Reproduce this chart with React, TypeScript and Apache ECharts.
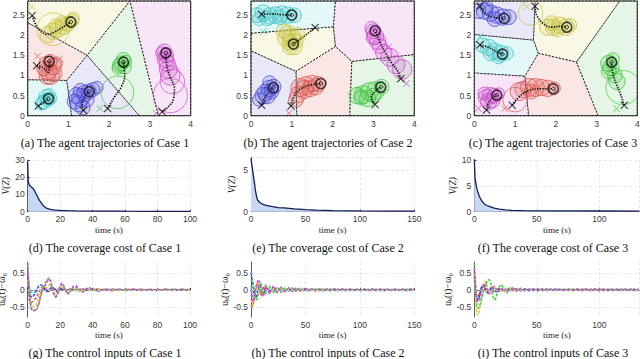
import React, { useEffect, useRef } from "react";
import * as echarts from "echarts";

// agent order: yellow, red, cyan, blue, green, magenta
const AGENT_COLORS = ["#c6c23a", "#dc5650", "#3cc6c6", "#4848dc", "#3ec63e", "#cc4ccc"];
const REGION_FILLS = ["#f8f8e4", "#f9e6e5", "#e4f8f8", "#e8e8f8", "#e6f6e6", "#f8e5f8"];
const TOP_YMAX = 2.85;

// ---------- Case 1 (a) ----------
const A_REGIONS = [
  [[0, 2.31], [1.46, 1.5], [2.51, 2.85], [0, 2.85]],
  [[0, 0.89], [0.96, 0.875], [1.46, 1.5], [0, 2.31]],
  [[0, 0], [1.08, 0], [0.96, 0.875], [0, 0.89]],
  [[1.08, 0], [2.74, 0], [1.46, 1.5], [0.96, 0.875]],
  [[2.74, 0], [3.21, 0], [2.51, 2.85], [1.46, 1.5]],
  [[3.21, 0], [4, 0], [4, 2.85], [2.51, 2.85]],
];
const A_PATHS = [
  [[0.11, 2.49], [0.18, 2.3], [0.3, 2.12], [0.48, 2.02], [0.66, 2.08], [0.86, 2.2], [1.06, 2.33]],
  [[0.22, 1.24], [0.38, 1.2], [0.5, 1.08], [0.53, 1.2], [0.53, 1.35]],
  [[0.26, 0.24], [0.38, 0.32], [0.51, 0.42]],
  [[1.37, 0.13], [1.33, 0.3], [1.42, 0.48], [1.51, 0.6]],
  [[1.96, 0.18], [2.12, 0.45], [2.3, 0.72], [2.38, 1.0], [2.35, 1.33]],
  [[3.3, 0.1], [3.45, 0.22], [3.58, 0.42], [3.6, 0.68], [3.5, 0.95], [3.42, 1.2], [3.39, 1.56]],
];
const A_RINGS = [
  [[0.5, 2.02, 0.2], [0.62, 2.1, 0.2], [0.75, 2.15, 0.2], [0.88, 2.22, 0.2], [0.98, 2.28, 0.18], [1.08, 2.35, 0.17], [1.12, 2.42, 0.15], [0.7, 2.22, 0.18], [0.85, 2.3, 0.18], [0.62, 2.15, 0.4]],
  [[0.45, 1.3, 0.17], [0.55, 1.35, 0.17], [0.62, 1.22, 0.2], [0.5, 1.12, 0.22], [0.56, 1.0, 0.22], [0.64, 1.05, 0.2], [0.4, 1.18, 0.18], [0.7, 1.3, 0.15], [0.48, 0.98, 0.2]],
  [[0.4, 0.35, 0.17], [0.5, 0.4, 0.17], [0.45, 0.47, 0.18], [0.56, 0.43, 0.15], [0.35, 0.3, 0.16], [0.52, 0.52, 0.15]],
  [[1.2, 0.5, 0.2], [1.3, 0.45, 0.22], [1.4, 0.55, 0.2], [1.5, 0.6, 0.18], [1.6, 0.65, 0.17], [1.25, 0.3, 0.2], [1.35, 0.2, 0.18], [1.15, 0.35, 0.18], [1.45, 0.4, 0.18], [1.7, 0.7, 0.15], [1.3, 0.62, 0.18]],
  [[2.3, 1.3, 0.18], [2.35, 1.4, 0.17], [2.25, 1.25, 0.17], [2.4, 1.35, 0.15], [2.22, 1.18, 0.15], [2.38, 1.2, 0.16], [2.2, 0.58, 0.4]],
  [[3.35, 1.6, 0.18], [3.4, 1.5, 0.18], [3.38, 1.4, 0.2], [3.42, 1.3, 0.2], [3.45, 1.15, 0.22], [3.5, 1.0, 0.24], [3.3, 1.55, 0.16], [3.55, 0.85, 0.3], [3.5, 0.5, 0.42]],
];
const A_STARTS = [[0.11, 2.49], [0.22, 1.24], [0.26, 0.24], [1.37, 0.13], [1.96, 0.18], [3.3, 0.1]];
const A_ENDS = [[1.06, 2.33], [0.53, 1.35], [0.51, 0.42], [1.51, 0.6], [2.35, 1.33], [3.39, 1.56]];
const A_MARKS = [[[0.1, 2.71]], [[0.24, 1.48], [0.78, 1.41]], [[0.45, 0.45]], [[1.28, 0.6]], [[1.77, 0.18]], [[3.15, 0.06], [3.38, 1.5]]];

// ---------- Case 2 (b) ----------
const B_REGIONS = [
  [[0, 1.61], [1.1, 1.1], [2.07, 1.72], [2.02, 2.21], [0, 2.05]],
  [[1.12, 0], [2.42, 0], [2.47, 1.35], [2.07, 1.72], [1.1, 1.1]],
  [[0, 2.05], [2.02, 2.21], [2.07, 2.85], [0, 2.85]],
  [[0, 0], [1.12, 0], [1.1, 1.1], [0, 1.61]],
  [[2.42, 0], [4, 0], [4, 1.52], [2.47, 1.35]],
  [[2.02, 2.21], [2.07, 1.72], [2.47, 1.35], [4, 1.52], [4, 2.85], [2.07, 2.85]],
];
const B_PATHS = [
  [[1.57, 2.19], [1.4, 2.05], [1.2, 1.9], [1.04, 1.78]],
  [[0.98, 0.24], [1.04, 0.45], [1.18, 0.64], [1.4, 0.75], [1.71, 0.8]],
  [[0.26, 2.52], [0.5, 2.53], [0.75, 2.51], [1.0, 2.5]],
  [[0.26, 0.26], [0.34, 0.45], [0.45, 0.6], [0.55, 0.7]],
  [[3.04, 0.28], [2.95, 0.45], [3.04, 0.6], [3.18, 0.71]],
  [[3.67, 0.92], [3.6, 1.1], [3.45, 1.3], [3.3, 1.55], [3.15, 1.85], [3.04, 2.11]],
];
const B_RINGS = [
  [[0.85, 1.95, 0.2], [0.95, 1.85, 0.2], [1.05, 1.75, 0.2], [0.9, 2.05, 0.2], [1.0, 1.95, 0.22], [1.1, 1.85, 0.18], [0.8, 2.1, 0.18], [1.15, 2.05, 0.16], [0.95, 1.72, 0.18]],
  [[1.2, 0.7, 0.22], [1.35, 0.75, 0.22], [1.5, 0.8, 0.2], [1.65, 0.82, 0.18], [1.15, 0.55, 0.2], [1.3, 0.65, 0.22], [1.45, 0.7, 0.2], [1.1, 0.4, 0.18], [1.58, 0.72, 0.2]],
  [[0.15, 2.5, 0.18], [0.3, 2.55, 0.2], [0.45, 2.5, 0.2], [0.6, 2.5, 0.2], [0.75, 2.55, 0.2], [0.9, 2.5, 0.2], [1.05, 2.52, 0.18], [0.2, 2.4, 0.16], [0.4, 2.42, 0.18], [0.7, 2.45, 0.18]],
  [[0.35, 0.6, 0.2], [0.45, 0.7, 0.2], [0.55, 0.75, 0.18], [0.3, 0.5, 0.2], [0.4, 0.5, 0.2], [0.5, 0.6, 0.18], [0.2, 0.4, 0.16], [0.45, 0.85, 0.16]],
  [[2.6, 0.5, 0.2], [2.75, 0.55, 0.22], [2.9, 0.6, 0.22], [3.05, 0.65, 0.22], [3.2, 0.72, 0.18], [2.7, 0.45, 0.18], [2.85, 0.45, 0.2], [3.0, 0.5, 0.18]],
  [[3.0, 2.1, 0.18], [3.05, 2.0, 0.2], [3.1, 1.85, 0.2], [3.0, 1.95, 0.18], [3.15, 1.75, 0.18], [3.25, 1.6, 0.2], [3.4, 1.45, 0.22], [3.55, 1.3, 0.22], [3.7, 1.15, 0.24], [2.95, 2.2, 0.16]],
];
const B_STARTS = [[1.57, 2.19], [0.98, 0.24], [0.26, 2.52], [0.26, 0.26], [3.04, 0.28], [3.67, 0.92]];
const B_ENDS = [[1.04, 1.78], [1.71, 0.8], [1.0, 2.5], [0.55, 0.7], [3.18, 0.71], [3.04, 2.11]];
const B_MARKS = [[[1.27, 1.95]], [[0.93, 0.06], [1.35, 0.72]], [[0.3, 2.09]], [[0.4, 0.65]], [[2.67, 0.63]], [[3.81, 0.8], [3.36, 1.7]]];

// ---------- Case 3 (c) ----------
const C_REGIONS = [
  [[1.45, 1.88], [1.57, 1.55], [2.51, 1.33], [3.57, 2.85], [1.49, 2.85]],
  [[1.33, 0], [3.04, 0], [2.51, 1.33], [1.57, 1.55], [1.24, 0.98]],
  [[0, 1.06], [1.24, 0.98], [1.57, 1.55], [1.45, 1.88], [0, 2.02]],
  [[0, 2.02], [1.45, 1.88], [1.49, 2.85], [0, 2.85]],
  [[2.51, 1.33], [3.04, 0], [4, 0], [4, 2.85], [3.57, 2.85]],
  [[0, 0], [1.33, 0], [1.24, 0.98], [0, 1.06]],
];
const C_PATHS = [
  [[1.49, 2.72], [1.53, 2.5], [1.68, 2.3], [1.9, 2.2], [2.1, 2.22], [2.27, 2.2]],
  [[0.93, 0.26], [1.08, 0.45], [1.32, 0.62], [1.62, 0.67], [1.94, 0.67]],
  [[0.14, 1.76], [0.35, 1.7], [0.52, 1.6], [0.69, 1.53]],
  [[0.14, 2.72], [0.25, 2.55], [0.45, 2.45], [0.73, 2.42]],
  [[3.68, 0.26], [3.6, 0.5], [3.48, 0.8], [3.4, 1.05], [3.37, 1.33]],
  [[0.3, 0.14], [0.34, 0.3], [0.45, 0.45], [0.55, 0.51]],
];
const C_RINGS = [
  [[1.8, 2.2, 0.2], [1.95, 2.2, 0.2], [2.1, 2.25, 0.2], [2.25, 2.2, 0.2], [2.35, 2.25, 0.16], [1.9, 2.3, 0.18], [2.05, 2.15, 0.18], [1.38, 2.55, 0.3]],
  [[1.2, 0.65, 0.2], [1.35, 0.7, 0.22], [1.5, 0.7, 0.22], [1.65, 0.7, 0.2], [1.8, 0.68, 0.2], [1.95, 0.68, 0.16], [1.1, 0.6, 0.22], [1.4, 0.6, 0.18], [1.0, 0.4, 0.3]],
  [[0.2, 1.75, 0.18], [0.35, 1.7, 0.2], [0.5, 1.6, 0.2], [0.65, 1.55, 0.2], [0.8, 1.55, 0.16], [0.4, 1.55, 0.18], [0.6, 1.45, 0.16]],
  [[0.1, 2.6, 0.18], [0.25, 2.6, 0.2], [0.4, 2.55, 0.2], [0.55, 2.5, 0.2], [0.7, 2.45, 0.2], [0.85, 2.45, 0.18], [0.3, 2.7, 0.16], [0.5, 2.4, 0.18]],
  [[3.3, 1.3, 0.2], [3.35, 1.2, 0.2], [3.3, 1.1, 0.18], [3.4, 1.4, 0.16], [3.45, 1.0, 0.18], [3.5, 0.85, 0.2], [3.65, 0.7, 0.42]],
  [[0.3, 0.45, 0.2], [0.4, 0.5, 0.2], [0.5, 0.5, 0.18], [0.35, 0.35, 0.2], [0.45, 0.38, 0.18], [0.6, 0.55, 0.14], [0.25, 0.55, 0.16]],
];
const C_STARTS = [[1.49, 2.72], [0.93, 0.26], [0.14, 1.76], [0.14, 2.72], [3.68, 0.26], [0.3, 0.14]];
const C_ENDS = [[2.27, 2.2], [1.94, 0.67], [0.69, 1.53], [0.73, 2.42], [3.37, 1.33], [0.55, 0.51]];
const C_MARKS = [[[1.28, 2.7]], [[0.75, 0.18], [1.45, 0.68]], [[0.14, 1.96]], [[0.3, 2.78], [0.45, 2.5]], [[3.49, 0.18], [3.3, 1.15]], [[0.1, 0.18], [0.26, 0.47]]];

// ---------- Coverage cost ----------
const V1_T = [0, 0.3, 1, 2, 3, 4, 5, 6, 7, 8, 9, 10, 11, 12, 14, 16, 18, 20, 25, 30, 40, 60, 80, 100];
const V1 = [29, 18, 15.5, 14.5, 13.8, 12.5, 10.7, 8.8, 7, 5.5, 4.2, 3.2, 2.4, 1.9, 1.4, 1.1, 0.9, 0.8, 0.6, 0.5, 0.35, 0.28, 0.24, 0.2];
const V2_T = [0, 1, 2, 3, 4, 5, 6, 8, 10, 13, 16, 20, 25, 30, 40, 50, 60, 75, 100, 125, 150];
const V2 = [6.4, 5.4, 4.5, 3.6, 2.6, 1.9, 1.4, 1.1, 0.95, 0.8, 0.7, 0.6, 0.5, 0.45, 0.33, 0.24, 0.18, 0.12, 0.09, 0.07, 0.06];
const V3_T = [0, 0.5, 1, 2, 3, 4, 5, 6, 8, 10, 13, 16, 20, 25, 30, 40, 60, 80, 100, 132];
const V3 = [10.4, 6.8, 5.8, 4.5, 3.7, 3.0, 2.5, 2.1, 1.5, 1.2, 0.95, 0.7, 0.5, 0.35, 0.27, 0.2, 0.17, 0.15, 0.14, 0.13];

// ---------- Control inputs (order: cyan, red, blue, yellow, green, magenta) ----------
const U_COLORS = ["#22d0d0", "#e64848", "#3a3aee", "#d6ce22", "#2ed02e", "#e03ee0"];
const T1 = [0, 1, 2, 3, 4, 5, 6, 7, 8, 9, 10, 11, 12, 13, 14, 15, 16, 17, 18, 19, 20, 21, 22, 23, 24, 25, 26, 28, 30, 32, 34, 36, 38, 40, 44, 48, 52, 56, 60, 65, 70, 75, 80, 85, 90, 95, 100];
const C1 = [0.2, -0.05, -0.08, -0.08, -0.07, -0.06, -0.04, -0.02, 0.0, 0.01, 0.02, 0.01, 0.0, -0.01, 0.0, 0.01, 0.01, 0.0, -0.01, 0.0, 0.01, 0.01, 0.0, -0.01, 0.0, 0.01, 0.0,
  0.01, -0.01, 0.0, 0.01, 0.0, -0.01, 0.01, 0.0, -0.01, 0.01, 0.0, 0.01, -0.01, 0.0, 0.01, 0.0, -0.01, 0.01, 0.0, 0.01];
const R1 = [0.4, -0.3, -0.38, -0.35, -0.3, -0.25, -0.15, -0.05, 0.02, 0.08, 0.1, 0.05, -0.02, -0.05, 0.0, 0.05, 0.06, 0.02, -0.03, -0.04, 0.0, 0.03, 0.02, -0.02, -0.03, 0.0, 0.02,
  0.01, -0.02, 0.01, 0.02, -0.01, -0.02, 0.01, 0.02, -0.01, 0.01, -0.02, 0.01, 0.02, -0.01, 0.01, -0.01, 0.02, -0.01, 0.01, 0.0];
const B1 = [0.5, -0.1, -0.2, -0.22, -0.15, -0.05, 0.05, 0.12, 0.15, 0.12, 0.05, -0.02, -0.05, -0.02, 0.05, 0.08, 0.05, 0.0, -0.04, -0.03, 0.02, 0.04, 0.02, -0.02, -0.03, 0.0, 0.02,
  0.01, -0.02, 0.01, 0.02, -0.01, -0.02, 0.01, 0.01, -0.02, 0.02, -0.01, 0.01, -0.01, 0.02, -0.01, 0.01, -0.01, 0.02, -0.01, 0.01];
const Y1 = [0.3, -0.3, -0.45, -0.5, -0.5, -0.45, -0.35, -0.2, -0.05, 0.05, 0.1, 0.08, 0.05, 0.12, 0.18, 0.1, -0.02, -0.1, -0.08, 0.0, 0.05, 0.08, 0.04, -0.02, -0.05, -0.04, 0.0,
  0.04, -0.02, -0.03, 0.02, 0.03, -0.01, -0.02, 0.02, -0.01, 0.02, -0.02, 0.01, -0.01, 0.02, -0.01, 0.01, -0.02, 0.01, -0.01, 0.01];
const G1 = [0.7, 0.1, -0.5, -0.6, -0.62, -0.6, -0.55, -0.4, -0.2, -0.05, 0.1, 0.2, 0.3, 0.35, 0.3, 0.1, -0.1, -0.22, -0.2, -0.05, 0.08, 0.15, 0.12, 0.0, -0.08, -0.1, -0.05,
  0.08, 0.06, -0.04, -0.05, 0.04, 0.04, -0.02, -0.03, 0.03, -0.02, 0.02, -0.02, 0.02, -0.02, 0.01, -0.02, 0.02, -0.01, 0.02, -0.02];
const M1 = [0.8, -0.2, -0.55, -0.6, -0.6, -0.58, -0.5, -0.35, -0.15, 0.0, 0.1, 0.15, 0.25, 0.32, 0.25, 0.05, -0.12, -0.2, -0.15, 0.0, 0.12, 0.2, 0.15, 0.02, -0.08, -0.12, -0.08,
  0.1, 0.12, 0.0, -0.07, 0.02, 0.07, 0.0, -0.04, 0.03, -0.03, 0.03, -0.02, 0.02, -0.02, 0.02, -0.02, 0.02, -0.02, 0.02, -0.01];

const T2 = [0, 1, 2, 3, 4, 5, 6, 7, 8, 9, 10, 11, 12, 13.5, 17, 20.5, 24, 27.5, 31, 34.5, 38, 41.5, 45, 48.5, 52, 55.5, 59, 62.5, 66, 69.5, 73, 76.5, 80, 83.5, 87, 90.5, 94, 97.5, 101, 104.5, 108, 111.5, 115, 118.5, 122, 125.5, 129, 132.5, 136, 139.5, 143, 146.5, 150];
const C2 = [0.1, -0.1, -0.2, -0.15, -0.05, 0.05, 0.1, 0.05, -0.03, -0.08, -0.05, 0.02, 0.05,
  -0.05, 0.05, -0.04, 0.04, -0.04, 0.03, -0.03, 0.03, -0.03, 0.02, -0.02, 0.02, -0.02, 0.02, -0.02, 0.02, -0.02, 0.02, -0.02, 0.02, -0.02, 0.02, -0.02, 0.02, -0.02, 0.02, -0.02, 0.02, -0.02, 0.02, -0.02, 0.02, -0.02, 0.02, -0.02, 0.02, -0.02, 0.02, -0.02, 0.01];
const R2 = [-0.45, -0.5, -0.4, -0.2, 0.0, 0.15, 0.2, 0.1, -0.05, -0.15, -0.12, 0.0, 0.1,
  0.08, -0.08, 0.07, -0.06, 0.06, -0.05, 0.05, -0.04, 0.04, -0.04, 0.03, -0.03, 0.03, -0.03, 0.03, -0.02, 0.02, -0.02, 0.02, -0.02, 0.02, -0.02, 0.03, -0.02, 0.02, -0.02, 0.02, -0.02, 0.02, -0.02, 0.02, -0.02, 0.02, -0.02, 0.02, -0.02, 0.02, -0.02, 0.02, -0.02];
const B2 = [0.5, 0.3, 0.05, -0.15, -0.25, -0.2, -0.05, 0.1, 0.15, 0.1, -0.02, -0.1, -0.08,
  0.08, -0.07, 0.06, -0.06, 0.05, -0.05, 0.04, -0.04, 0.04, -0.03, 0.03, -0.03, 0.03, -0.02, 0.03, -0.02, 0.02, -0.02, 0.02, -0.02, 0.02, -0.02, 0.02, -0.02, 0.02, -0.02, 0.02, -0.02, 0.02, -0.02, 0.02, -0.02, 0.02, -0.02, 0.02, -0.02, 0.02, -0.02, 0.02, -0.01];
const Y2 = [-0.3, -0.45, -0.45, -0.3, -0.1, 0.1, 0.2, 0.15, 0.0, -0.12, -0.15, -0.05, 0.08,
  0.1, -0.1, 0.08, -0.08, 0.07, -0.06, 0.05, -0.05, 0.04, -0.04, 0.04, -0.03, 0.03, -0.03, 0.03, -0.02, 0.02, -0.02, 0.02, -0.02, 0.02, -0.02, 0.02, -0.02, 0.02, -0.02, 0.02, -0.02, 0.02, -0.02, 0.02, -0.02, 0.02, -0.02, 0.02, -0.02, 0.02, -0.02, 0.02, -0.01];
const G2 = [0.25, 0.3, 0.2, 0.0, -0.2, -0.3, -0.25, -0.05, 0.15, 0.2, 0.1, -0.05, -0.15,
  -0.12, 0.12, -0.1, 0.09, -0.08, 0.07, -0.06, 0.06, -0.05, 0.05, -0.04, 0.04, -0.03, 0.03, -0.03, 0.03, -0.02, 0.03, -0.02, 0.02, -0.02, 0.02, -0.02, 0.02, -0.02, 0.02, -0.02, 0.02, -0.02, 0.02, -0.02, 0.02, -0.02, 0.02, -0.02, 0.02, -0.02, 0.02, -0.02, 0.01];
const M2 = [0.0, -0.2, -0.35, -0.3, -0.1, 0.1, 0.25, 0.3, 0.2, 0.0, -0.15, -0.2, -0.1,
  0.15, -0.12, 0.12, -0.1, 0.09, -0.08, 0.07, -0.06, 0.06, -0.05, 0.05, -0.04, 0.04, -0.04, 0.03, -0.03, 0.03, -0.03, 0.03, -0.02, 0.03, -0.02, 0.02, -0.02, 0.02, -0.02, 0.02, -0.02, 0.02, -0.02, 0.02, -0.02, 0.02, -0.02, 0.02, -0.02, 0.02, -0.02, 0.02, -0.01];

const T3 = [0, 1, 2, 3, 4, 5, 6, 7, 8, 9, 10, 11, 12, 13, 14, 15, 16, 17, 18, 19, 20, 22, 24, 26, 28, 30, 33.5, 37, 40.5, 44, 47.5, 51, 54.5, 58, 61.5, 65, 68.5, 72, 75.5, 79, 82.5, 86, 89.5, 93, 96.5, 100, 103.5, 107, 110.5, 114, 117.5, 121, 124.5, 128, 131.5];
const C3 = [0.3, -0.1, -0.3, -0.28, -0.15, 0.0, 0.1, 0.12, 0.05, -0.04, -0.08, -0.05, 0.02, 0.06, 0.04, -0.01, -0.04, -0.03, 0.01, 0.03, 0.02, -0.02, 0.02, -0.02, 0.02, -0.02,
  0.02, -0.02, 0.02, -0.02, 0.02, -0.02, 0.02, -0.02, 0.02, -0.02, 0.02, -0.02, 0.02, -0.02, 0.02, -0.02, 0.02, -0.02, 0.02, -0.02, 0.02, -0.02, 0.02, -0.02, 0.02, -0.02, 0.02, -0.02, 0.02];
const R3 = [0.4, 0.0, -0.2, -0.2, -0.12, 0.0, 0.08, 0.1, 0.05, -0.03, -0.06, -0.04, 0.02, 0.05, 0.03, -0.02, -0.04, -0.02, 0.02, 0.03, 0.01, -0.03, 0.03, -0.03, 0.03, -0.03,
  0.03, -0.03, 0.03, -0.03, 0.03, -0.03, 0.03, -0.03, 0.03, -0.03, 0.03, -0.03, 0.03, -0.03, 0.03, -0.03, 0.03, -0.03, 0.03, -0.03, 0.03, -0.03, 0.03, -0.03, 0.03, -0.03, 0.03, -0.03, 0.03];
const B3 = [0.55, 0.1, -0.25, -0.3, -0.2, -0.05, 0.1, 0.15, 0.12, 0.02, -0.08, -0.1, -0.05, 0.03, 0.08, 0.06, 0.0, -0.05, -0.05, 0.0, 0.03, 0.02, -0.02, 0.02, -0.02, 0.02,
  0.02, -0.02, 0.02, -0.02, 0.02, -0.02, 0.02, -0.02, 0.02, -0.02, 0.02, -0.02, 0.02, -0.02, 0.02, -0.02, 0.02, -0.02, 0.02, -0.02, 0.02, -0.02, 0.02, -0.02, 0.02, -0.02, 0.02, -0.02, 0.02];
const Y3 = [0.5, -0.3, -0.7, -0.75, -0.6, -0.4, -0.15, 0.1, 0.22, 0.25, 0.15, 0.0, -0.1, -0.12, -0.05, 0.05, 0.1, 0.08, 0.0, -0.05, -0.06, 0.04, -0.03, 0.03, -0.02, 0.02,
  -0.02, 0.02, -0.02, 0.02, -0.02, 0.02, -0.02, 0.02, -0.02, 0.02, -0.02, 0.02, -0.02, 0.02, -0.02, 0.02, -0.02, 0.02, -0.02, 0.02, -0.02, 0.02, -0.02, 0.02, -0.02, 0.02, -0.02, 0.02, -0.02];
const G3 = [0.8, 0.2, -0.45, -0.55, -0.5, -0.4, -0.25, -0.1, 0.05, 0.15, 0.22, 0.28, 0.3, 0.25, 0.05, -0.2, -0.3, -0.28, -0.15, 0.0, 0.1, 0.15, 0.0, -0.1, 0.05, 0.08,
  -0.05, 0.05, -0.04, 0.04, -0.03, 0.03, -0.03, 0.03, -0.02, 0.03, -0.02, 0.02, -0.02, 0.02, -0.02, 0.02, -0.02, 0.02, -0.02, 0.02, -0.02, 0.02, -0.02, 0.02, -0.02, 0.02, -0.02, 0.02, -0.02];
const M3 = [0.65, 0.0, -0.3, -0.35, -0.3, -0.2, -0.05, 0.1, 0.18, 0.15, 0.05, -0.05, -0.12, -0.1, 0.0, 0.08, 0.1, 0.05, -0.03, -0.06, -0.04, 0.04, -0.04, 0.03, -0.03, 0.03,
  -0.03, 0.03, -0.03, 0.03, -0.02, 0.03, -0.02, 0.03, -0.02, 0.03, -0.02, 0.02, -0.03, 0.02, -0.02, 0.03, -0.02, 0.02, -0.02, 0.03, -0.02, 0.02, -0.02, 0.02, -0.02, 0.02, -0.02, 0.02, -0.02];

const CAPTIONS_TOP = ["(a) The agent trajectories of Case 1", "(b) The agent trajectories of Case 2", "(c) The agent trajectories of Case 3"];
const CAPTIONS_MID = ["(d) The coverage cost of Case 1", "(e) The coverage cost of Case 2", "(f) The coverage cost of Case 3"];
const CAPTIONS_BOT = ["(g) The control inputs of Case 1", "(h) The control inputs of Case 2", "(i) The control inputs of Case 3"];

const X_BOLD = "path://M1,0 L5,4 L9,0 L10,1 L6,5 L10,9 L9,10 L5,6 L1,10 L0,9 L4,5 L0,1 Z";
const X_THIN = "path://M0.7,0 L5,4.3 L9.3,0 L10,0.7 L5.7,5 L10,9.3 L9.3,10 L5,5.7 L0.7,10 L0,9.3 L4.3,5 L0,0.7 Z";

const SANS = "'Liberation Sans', Arial, sans-serif";
const SERIF = "'Liberation Serif', 'Times New Roman', serif";

function hexA(hex: string, a: number) {
  const n = parseInt(hex.slice(1), 16);
  return `rgba(${(n >> 16) & 255},${(n >> 8) & 255},${n & 255},${a})`;
}

function buildOption() {
  const grids: any[] = [];
  const xAxes: any[] = [];
  const yAxes: any[] = [];
  const series: any[] = [];
  const graphics: any[] = [];

  const lefts = [27.7, 251, 474.3];
  const topWidths = [163, 163.3, 163];
  const midWidths = [162.3, 163.3, 165];
  const centers = [105, 328, 553];
  const captionFont = `12px ${SERIF}`;

  const tickLabel = { fontSize: 8.5, color: "#3a3a3a", fontFamily: SANS };

  // ---- top row
  const panels = [
    [A_REGIONS, A_PATHS, A_RINGS, A_STARTS, A_ENDS, A_MARKS],
    [B_REGIONS, B_PATHS, B_RINGS, B_STARTS, B_ENDS, B_MARKS],
    [C_REGIONS, C_PATHS, C_RINGS, C_STARTS, C_ENDS, C_MARKS],
  ];
  panels.forEach((p, i) => {
    const [regions, paths, rings, starts, ends, marks] = p as any[];
    grids.push({ left: lefts[i], top: 1, width: topWidths[i], height: 114.7, outerBoundsMode: "none" });
    xAxes.push({
      gridIndex: i, type: "value", min: 0, max: 4, interval: 1,
      axisLine: { show: false }, splitLine: { show: false },
      axisTick: { show: true, inside: true, length: 2.5, lineStyle: { color: "#333", width: 0.8 } },
      axisLabel: { ...tickLabel, margin: 4 },
    });
    yAxes.push({
      gridIndex: i, type: "value", min: 0, max: TOP_YMAX, interval: 0.5,
      axisLine: { show: false }, splitLine: { show: false },
      axisTick: { show: true, inside: true, length: 2.5, lineStyle: { color: "#333", width: 0.8 } },
      axisLabel: { ...tickLabel, margin: 3, showMaxLabel: false },
    });
    series.push({
      type: "custom", xAxisIndex: i, yAxisIndex: i, silent: true, z: 1,
      data: regions.map((poly: number[][]) => [poly[0][0], poly[0][1]]),
      renderItem: (params: any, api: any) => {
        const poly = regions[params.dataIndex];
        const pts = poly.map((pt: number[]) => api.coord(pt));
        return {
          type: "polygon", shape: { points: pts },
          style: { fill: REGION_FILLS[params.dataIndex], stroke: "#111", lineWidth: 0.9, lineDash: [2, 1.5] },
        };
      },
    });
    rings.forEach((rs: number[][], k: number) => {
      series.push({
        type: "custom", xAxisIndex: i, yAxisIndex: i, silent: true, z: 2, clip: true,
        data: rs,
        renderItem: (params: any, api: any) => {
          const c = api.coord([api.value(0), api.value(1)]);
          const rr = api.value(2);
          const s = api.size([rr, 0]);
          const big = rr > 0.28;
          return {
            type: "circle", shape: { cx: c[0], cy: c[1], r: s[0] },
            style: {
              fill: big ? "none" : hexA(AGENT_COLORS[k], 0.16),
              stroke: AGENT_COLORS[k], lineWidth: big ? 0.7 : 0.8,
            },
          };
        },
      });
    });
    paths.forEach((path: number[][]) => {
      series.push({
        type: "line", xAxisIndex: i, yAxisIndex: i, data: path, showSymbol: false, smooth: 0.4,
        silent: true, z: 3, lineStyle: { color: "#111", width: 1.7, type: [1.3, 1.3] },
      });
    });
    marks.forEach((ms: number[][], k: number) => {
      series.push({
        type: "scatter", xAxisIndex: i, yAxisIndex: i, data: ms, symbol: X_THIN, symbolSize: 7,
        silent: true, z: 4, itemStyle: { color: AGENT_COLORS[k] },
      });
    });
    series.push({
      type: "scatter", xAxisIndex: i, yAxisIndex: i, data: starts, symbol: X_BOLD, symbolSize: 8,
      silent: true, z: 5, itemStyle: { color: "#111" },
    });
    series.push({
      type: "scatter", xAxisIndex: i, yAxisIndex: i, data: ends, symbol: "circle", symbolSize: 10,
      silent: true, z: 5, itemStyle: { color: "rgba(0,0,0,0)", borderColor: "#111", borderWidth: 1.6 },
    });
    series.push({
      type: "scatter", xAxisIndex: i, yAxisIndex: i, data: ends, symbol: "circle", symbolSize: 3.5,
      silent: true, z: 5, itemStyle: { color: "rgba(0,0,0,0)", borderColor: "#111", borderWidth: 1 },
    });
    series.push({
      type: "custom", xAxisIndex: i, yAxisIndex: i, silent: true, z: 6,
      data: [[0, 0]],
      renderItem: (params: any, api: any) => {
        const a = api.coord([0, TOP_YMAX]);
        const b = api.coord([4, 0]);
        return {
          type: "rect", shape: { x: a[0], y: a[1], width: b[0] - a[0], height: b[1] - a[1] },
          style: { fill: "none", stroke: "#2a2a2a", lineWidth: 1 },
        };
      },
    });
    graphics.push({
      type: "text", x: centers[i], y: 143,
      style: { text: CAPTIONS_TOP[i], font: captionFont, fill: "#111", align: "center", verticalAlign: "middle", textAlign: "center", textVerticalAlign: "middle" },
    });
  });

  // ---- middle row (coverage cost)
  const vT = [V1_T, V2_T, V3_T];
  const vV = [V1, V2, V3];
  const vMax = [30, 6.5, 10];
  const vInt = [10, 5, 5];
  const xMax = [100, 150, 132];
  const xInt = [20, 50, 50];
  const vTop = [160, 157.5, 160];
  const vH = [51.7, 54.2, 51.7];
  for (let i = 0; i < 3; i++) {
    const gi = 3 + i;
    grids.push({ left: lefts[i], top: vTop[i], width: midWidths[i], height: vH[i], outerBoundsMode: "none" });
    xAxes.push({
      gridIndex: gi, type: "value", min: 0, max: xMax[i], interval: xInt[i],
      name: "time (s)", nameLocation: "middle", nameGap: 14,
      nameTextStyle: { fontFamily: SERIF, fontSize: 9, color: "#222" },
      axisLine: { show: true, lineStyle: { color: "#333", width: 0.8 } },
      axisTick: { show: true, inside: true, length: 2, lineStyle: { color: "#333" } },
      splitLine: { show: true, lineStyle: { color: "#dedede", type: [3, 2], width: 0.7 } },
      axisLabel: { ...tickLabel, margin: 3, showMaxLabel: i !== 2 },
    });
    yAxes.push({
      gridIndex: gi, type: "value", min: 0, max: vMax[i], interval: vInt[i],
      name: "V(Z)", nameLocation: "middle", nameGap: 14,
      nameTextStyle: { fontFamily: SERIF, fontSize: 9.5, fontStyle: "italic", color: "#222" },
      axisLine: { show: true, lineStyle: { color: "#333", width: 0.8 } },
      axisTick: { show: true, inside: true, length: 2, lineStyle: { color: "#333" } },
      splitLine: { show: true, lineStyle: { color: "#dedede", type: [3, 2], width: 0.7 } },
      axisLabel: { ...tickLabel, margin: 3, showMaxLabel: i !== 1 },
    });
    series.push({
      type: "line", xAxisIndex: gi, yAxisIndex: gi, showSymbol: false, silent: true,
      data: vT[i].map((t, k) => [t, vV[i][k]]),
      lineStyle: { color: "#151c55", width: 1.3 },
      areaStyle: { color: "#c6d8f4", opacity: 1 },
    });
    graphics.push({
      type: "text", x: centers[i], y: 248,
      style: { text: CAPTIONS_MID[i], font: captionFont, fill: "#111", align: "center", verticalAlign: "middle", textAlign: "center", textVerticalAlign: "middle" },
    });
  }

  // ---- bottom row (control inputs)
  const uT = [T1, T2, T3];
  const uV = [[C1, R1, B1, Y1, G1, M1], [C2, R2, B2, Y2, G2, M2], [C3, R3, B3, Y3, G3, M3]];
  for (let i = 0; i < 3; i++) {
    const gi = 6 + i;
    grids.push({ left: lefts[i], top: 262, width: midWidths[i], height: 55, outerBoundsMode: "none" });
    xAxes.push({
      gridIndex: gi, type: "value", min: 0, max: xMax[i], interval: xInt[i],
      name: "time (s)", nameLocation: "middle", nameGap: 13,
      nameTextStyle: { fontFamily: SERIF, fontSize: 9, color: "#222" },
      axisLine: { show: true, lineStyle: { color: "#333", width: 0.8 } },
      axisTick: { show: true, inside: true, length: 2, lineStyle: { color: "#333" } },
      splitLine: { show: true, lineStyle: { color: "#dedede", type: [3, 2], width: 0.7 } },
      axisLabel: { ...tickLabel, margin: 3, showMaxLabel: i !== 2 },
    });
    yAxes.push({
      gridIndex: gi, type: "value", min: -0.8, max: 0.82,
      name: "uₖ(t)−ω₀", nameLocation: "middle", nameGap: 11,
      nameTextStyle: { fontFamily: SERIF, fontSize: 10, color: "#222" },
      axisLine: { show: true, lineStyle: { color: "#333", width: 0.8 } },
      axisTick: { show: true, inside: true, length: 2, customValues: [-0.5, 0, 0.5], lineStyle: { color: "#333" } },
      splitLine: { show: false },
      axisLabel: { ...tickLabel, margin: 3, customValues: [-0.5, 0, 0.5] },
    });
    uV[i].forEach((vals, k) => {
      const s: any = {
        type: "line", xAxisIndex: gi, yAxisIndex: gi, showSymbol: false, silent: true,
        data: uT[i].map((t, j) => [t, vals[j]]).filter((d) => d[1] !== undefined),
        lineStyle: { color: U_COLORS[k], width: 1.4, type: [3, 1.5] },
        z: 3,
      };
      if (k === 0) {
        s.markLine = {
          silent: true, symbol: "none", label: { show: false }, animation: false,
          lineStyle: { color: "#dedede", type: [3, 2], width: 0.7 },
          data: [{ yAxis: -0.5 }, { yAxis: 0 }, { yAxis: 0.5 }],
        };
      }
      series.push(s);
    });
    graphics.push({
      type: "text", x: centers[i], y: 352.5,
      style: { text: CAPTIONS_BOT[i], font: captionFont, fill: "#111", align: "center", verticalAlign: "middle", textAlign: "center", textVerticalAlign: "middle" },
    });
  }

  return {
    animation: false,
    backgroundColor: "#ffffff",
    grid: grids,
    xAxis: xAxes,
    yAxis: yAxes,
    series,
    graphic: graphics,
  };
}

export default function App() {
  const ref = useRef<HTMLDivElement | null>(null);
  useEffect(() => {
    if (!ref.current) return;
    const chart = echarts.init(ref.current, undefined, { renderer: "svg" });
    chart.setOption(buildOption() as any);
    return () => chart.dispose();
  }, []);
  return (
    <div
      ref={ref}
      style={{ position: "absolute", left: 0, top: 0, width: 640, height: 359, background: "#fff" }}
    />
  );
}
